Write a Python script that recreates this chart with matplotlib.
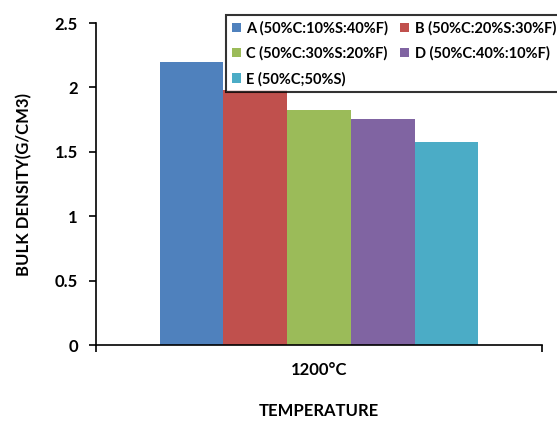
import numpy as np
import matplotlib
matplotlib.use('Agg')
import matplotlib.pyplot as plt

plt.rcParams['font.family'] = ['Lato', 'DejaVu Sans']
plt.rcParams['font.weight'] = 'bold'

# datos
muestras = ['A (50%C:10%S:40%F)', 'B (50%C:20%S:30%F)', 'C (50%C:30%S:20%F)',
            'D (50%C:40%:10%F)', 'E (50%C;50%S)']
densidad = [2.2, 1.98, 1.825, 1.755, 1.58]
colores = ['#4f81bd', '#c0504d', '#9bbb59', '#8064a2', '#4bacc6']
temperatura = ['1200°C']

fig = plt.figure(figsize=(5.57, 4.21), dpi=100)
ax = fig.add_axes([0.1724, 0.1805, 0.8007, 0.7648])

ancho = 0.143
barras = []
for i, (m, d, c) in enumerate(zip(muestras, densidad, colores)):
    barras.append(ax.bar((i - 2) * ancho, d, width=ancho, color=c, label=m))

ax.set_xlim(-0.5, 0.5)
ax.set_ylim(0, 2.5)
ax.set_yticks([0, 0.5, 1, 1.5, 2, 2.5])
ax.set_yticklabels(['0', '0.5', '1', '1.5', '2', '2.5'], fontsize=12, fontweight='bold')
ax.set_xticks([0])
ax.set_xticklabels(temperatura, fontsize=12, fontweight='bold')
ax.set_xticks([-0.5, 0.5], minor=True)
ax.tick_params(axis='x', which='major', length=0, pad=12)
ax.tick_params(axis='x', which='minor', length=5, width=1.2, direction='out')
ax.tick_params(axis='y', length=5, width=1.2, direction='out', pad=8)

for s in ['top', 'right']:
    ax.spines[s].set_visible(False)
for s in ['left', 'bottom']:
    ax.spines[s].set_linewidth(1.2)

ax.set_xlabel('TEMPERATURE', fontsize=12, fontweight='bold', labelpad=18)
ax.set_ylabel('BULK DENSITY(G/CM3)', fontsize=12, fontweight='bold', labelpad=16)

# orden por filas: A B / C D / E
orden = [0, 2, 4, 1, 3]
leg = fig.legend([barras[i] for i in orden], [muestras[i] for i in orden],
                 loc='upper left', bbox_to_anchor=(226 / 557, 1 - 15 / 421),
                 borderaxespad=0, ncol=2, fontsize=10.5, frameon=True, fancybox=False,
                 handlelength=0.6, handleheight=0.6, handletextpad=0.4,
                 columnspacing=0.8, labelspacing=0.75, borderpad=0.4)
leg.get_frame().set_edgecolor('black')
leg.get_frame().set_linewidth(1.5)
for t in leg.get_texts():
    t.set_fontweight('bold')

fig.savefig('out.png', dpi=100)
